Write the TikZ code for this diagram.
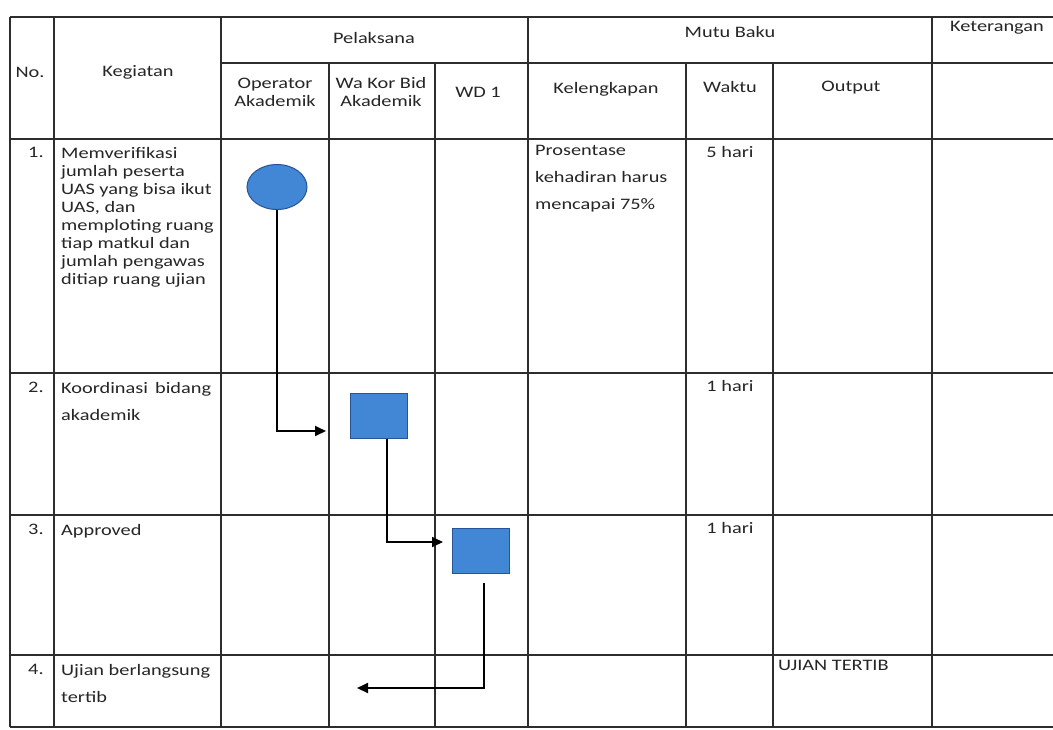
\documentclass[tikz,border=0pt]{standalone}
\usepackage{fontspec}
\setmainfont{Carlito}[FakeStretch=1.27]
\usepackage{tikz}
\usetikzlibrary{shapes.geometric,arrows.meta,positioning,calc}
\definecolor{flowBlue}{RGB}{66,134,214}
\definecolor{flowEdge}{RGB}{38,84,150}
\definecolor{gridGray}{RGB}{45,45,45}

\begin{document}
\begin{tikzpicture}[x=1pt,y=-1pt,
    grid/.style={draw=gridGray, line width=1.2pt},
    txt/.style={inner sep=0pt, font=\fontsize{16}{18}\selectfont, text=black!85},
    cell/.style={txt, anchor=north west, align=left},
    wide/.style={font=\fontsize{16}{27}\selectfont},
    proc/.style={rectangle, draw=flowEdge, fill=flowBlue, line width=1pt, minimum width=57pt, minimum height=45pt},
    term/.style={ellipse, draw=flowEdge, fill=flowBlue, line width=1pt, minimum width=60pt, minimum height=45pt, inner sep=0pt},
    flow/.style={line width=1.8pt, black, -{Triangle[length=11pt,width=10pt]}}]

    \useasboundingbox (0,0) rectangle (1053,729);
    \fill[white] (0,0) rectangle (1053,729);

    % table grid
    \draw[grid] (10,17) -- (1053,17);
    \draw[grid] (221,63) -- (1053,63);
    \foreach \y in {139,373,515,655,727} \draw[grid] (10,\y) -- (1053,\y);
    \foreach \x in {10,54,221,528,932} \draw[grid] (\x,17) -- (\x,727);
    \foreach \x in {329,435,686,773} \draw[grid] (\x,63) -- (\x,727);

    % header
    \node[txt] (hNo) at (30,72) {No.};
    \node[txt] (hKeg) at (138,72) {Kegiatan};
    \node[txt] (hPel) at (374,38) {Pelaksana};
    \node[txt] (hMutu) at (730,32) {Mutu Baku};
    \node[txt] (hKet) at (997,28) {Keterangan};
    \node[txt, align=center] (hOp) at (275,92) {Operator\\Akademik};
    \node[txt, align=center] (hWa) at (381,92) {Wa Kor Bid\\Akademik};
    \node[txt] (hWd) at (478,92) {WD 1};
    \node[txt] (hKel) at (606,89) {Kelengkapan};
    \node[txt] (hWak) at (730,87) {Waktu};
    \node[txt] (hOut) at (851,88) {Output};

    % rows
    \node[cell] (n1) at (28,147) {1.};
    \node[cell] (k1) at (61,147) {Memverifikasi\\jumlah peserta\\UAS yang bisa ikut\\UAS, dan\\memploting ruang\\tiap matkul dan\\jumlah pengawas\\ditiap ruang ujian};
    \node[cell, wide] (m1) at (535,145) {Prosentase\\kehadiran harus\\mencapai 75\%};
    \node[txt] (w1) at (730,152) {5 hari};

    \node[cell] (n2) at (28,382) {2.};
    \node[cell, wide, text width=150pt, align=justify] (k2) at (61,382) {Koordinasi bidang akademik};
    \node[txt] (w2) at (730,386) {1 hari};

    \node[cell] (n3) at (28,524) {3.};
    \node[cell] (k3) at (61,524) {Approved};
    \node[txt] (w3) at (730,528) {1 hari};

    \node[cell] (n4) at (28,664) {4.};
    \node[cell, wide] (k4) at (61,664) {Ujian berlangsung\\tertib};
    \node[txt, anchor=west] (o4) at (778,665) {UJIAN TERTIB};

    % flow
    \node[term] (start) at (277,187) {};
    \node[proc] (koord) at (379,416) {};
    \node[proc] (appr) at (481,551) {};
    \coordinate (toKoord) at (326,431);
    \coordinate (toAppr) at (443,542);
    \coordinate (toTertib) at (357,688);

    \draw[flow] (start.south) |- (toKoord);
    \draw[flow] ([xshift=8pt]koord.south) |- (toAppr);
    \draw[flow] ([xshift=3pt,yshift=-9pt]appr.south) |- (toTertib);
\end{tikzpicture}
\end{document}
